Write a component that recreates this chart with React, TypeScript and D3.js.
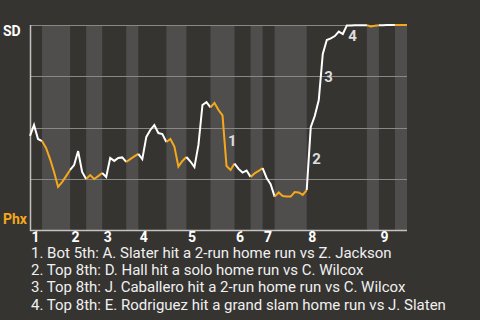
import React from "react";
import * as d3 from "d3";

// Win probability for SD after each play (0 = Phx wins, 1 = SD wins)
const winProb: number[] = [
  0.459, 0.512, 0.444, 0.434, 0.4, 0.346, 0.283, 0.21, 0.234, 0.263, 0.293,
  0.317, 0.385, 0.283, 0.249, 0.268, 0.249, 0.263, 0.278, 0.259, 0.351,
  0.337, 0.351, 0.354, 0.332, 0.346, 0.359, 0.371, 0.346, 0.454, 0.488,
  0.512, 0.473, 0.468, 0.429, 0.444, 0.407, 0.31, 0.337, 0.356, 0.334,
  0.307, 0.415, 0.61, 0.624, 0.598, 0.62, 0.585, 0.559, 0.312, 0.293,
  0.324, 0.298, 0.28, 0.29, 0.259, 0.276, 0.288, 0.302, 0.254, 0.224,
  0.163, 0.183, 0.166, 0.163, 0.163, 0.185, 0.183, 0.171, 0.195, 0.502,
  0.556, 0.634, 0.859, 0.927, 0.935, 0.946, 0.968, 0.956, 0.998, 0.998,
  0.999, 0.999, 0.999, 0.999, 0.993, 0.996, 0.999, 0.999, 1.0, 1.0, 1.0,
  1.0, 1.0, 1.0,
];

// Play index where each half inning starts (top 1, bot 1, top 2, ...), plus final
const halfInningStarts: number[] = [
  0, 3, 10, 14, 18, 24, 27, 34, 39, 45, 51, 55, 58, 61, 69, 84, 87, 91, 94,
];
const inningLabels: string[] = ["1", "2", "3", "4", "5", "6", "7", "8", "9"];

// Key plays: play index of the result and description
const eventPlays: number[] = [49, 70, 73, 79];
const eventTexts: string[] = [
  "Bot 5th: A. Slater hit a 2-run home run vs Z. Jackson",
  "Top 8th: D. Hall hit a solo home run vs C. Wilcox",
  "Top 8th: J. Caballero hit a 2-run home run vs C. Wilcox",
  "Top 8th: E. Rodriguez hit a grand slam home run vs J. Slaten",
];

const gridValues: number[] = [0.25, 0.5, 0.75, 1];
const teamTop = "SD";
const teamBottom = "Phx";

const W = 480;
const H = 320;
const BG = "#363431";
const STRIPE = "#4f4e4c";
const GRID = "#8a8885";
const AXIS = "#c4c3c1";
const ORANGE = "#f5a81c";
const WHITE = "#ffffff";
const FONT = "Roboto, 'Noto Sans', sans-serif";

export default function App() {
  const left = 30;
  const right = 407;
  const top = 25;
  const bottom = 230;
  const nPlays = halfInningStarts[halfInningStarts.length - 1];
  const x = d3.scaleLinear().domain([0, nPlays]).range([left, right]);
  const y = d3.scaleLinear().domain([0, 1]).range([bottom, top]);

  const halves = halfInningStarts.slice(0, -1).map((s, k) => ({
    start: s,
    end: halfInningStarts[k + 1],
    bottomHalf: k % 2 === 1,
    inning: Math.floor(k / 2),
  }));

  const segPath = (s: number, e: number) => {
    const pts: [number, number][] = [];
    for (let i = s; i <= e; i++) pts.push([x(i), y(winProb[i])]);
    return d3.line()(pts) || "";
  };

  return (
    <div style={{ position: "fixed", left: 0, top: 0, width: W, height: H }}>
      <svg width={W} height={H} style={{ display: "block" }} fontFamily={FONT}>
        <rect x={0} y={0} width={W} height={H} fill={BG} />
        {halves
          .filter((h) => h.bottomHalf)
          .map((h, k) => (
            <rect
              key={"s" + k}
              x={x(h.start)}
              y={top}
              width={x(h.end) - x(h.start)}
              height={bottom - top}
              fill={STRIPE}
            />
          ))}
        {gridValues.map((g) => (
          <line
            key={"g" + g}
            x1={left}
            x2={right}
            y1={Math.round(y(g)) + 0.5}
            y2={Math.round(y(g)) + 0.5}
            stroke={GRID}
            strokeWidth={1}
          />
        ))}
        <line x1={left + 0.5} x2={left + 0.5} y1={top} y2={bottom + 1} stroke={AXIS} strokeWidth={1.5} />
        <line x1={left} x2={right} y1={bottom + 0.5} y2={bottom + 0.5} stroke={AXIS} strokeWidth={1.5} />
        {halves.map((h, k) => (
          <path
            key={"l" + k}
            d={segPath(h.start, h.end)}
            fill="none"
            stroke={h.bottomHalf ? ORANGE : WHITE}
            strokeWidth={2}
            strokeLinejoin="miter"
          />
        ))}
        {eventPlays.map((p, k) => {
          const mid = (y(winProb[p - 1]) + y(winProb[p])) / 2;
          const cy = Math.max(mid, top + 11);
          return (
            <text
              key={"e" + k}
              x={x(p) + 1.5}
              y={cy + 5}
              fill="#dddddd"
              fontSize={15}
              fontWeight="bold"
            >
              {k + 1}
            </text>
          );
        })}
        <text x={3} y={36} fill={WHITE} fontSize={14} fontWeight="bold">
          {teamTop}
        </text>
        <text x={3} y={223.5} fill={ORANGE} fontSize={14} fontWeight="bold">
          {teamBottom}
        </text>
        {halves
          .filter((h) => !h.bottomHalf)
          .map((h, k) => (
            <text
              key={"i" + k}
              x={x(h.start) + 1.5}
              y={242}
              fill={WHITE}
              fontSize={14}
              fontWeight="bold"
            >
              {inningLabels[h.inning]}
            </text>
          ))}
        {eventTexts.map((t, k) => (
          <text key={"t" + k} x={31} y={257.5 + k * 17.4} fill="#f0f0f0" fontSize={15}>
            {`${k + 1}. ${t}`}
          </text>
        ))}
      </svg>
    </div>
  );
}
